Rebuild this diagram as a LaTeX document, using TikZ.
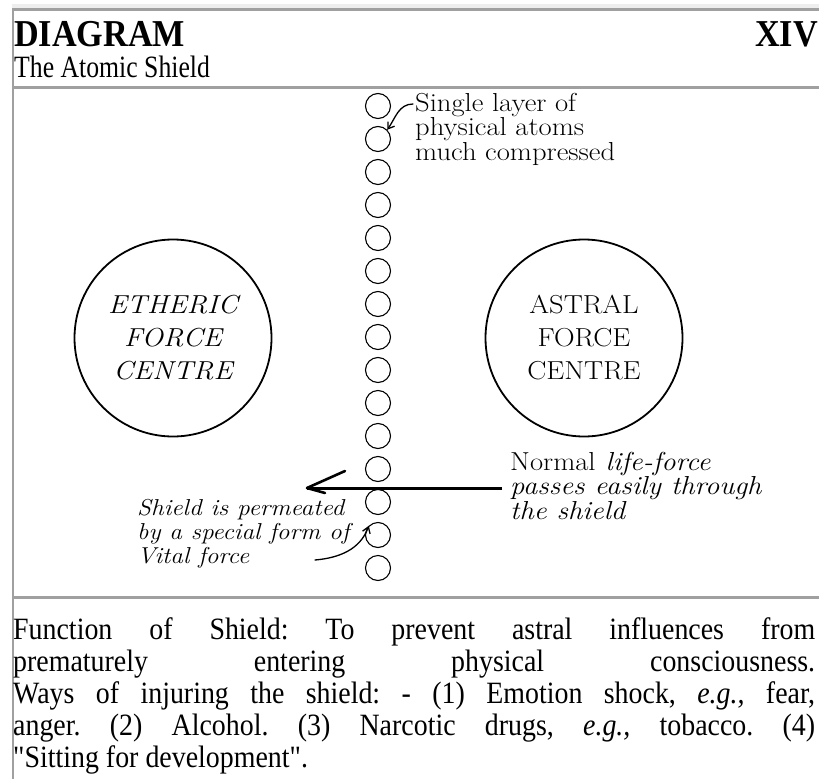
\documentclass[tikz,border=0pt]{standalone}
\usepackage{fontspec}
\setmainfont{Liberation Serif}
\newfontfamily\capfont{Liberation Serif}[FakeStretch=0.9]
\newfontfamily\subfont{Liberation Serif}[FakeStretch=0.83]
\newfontfamily\hand{Latin Modern Roman}[FakeStretch=1.1]
\usetikzlibrary{arrows.meta}
\definecolor{rulegray}{HTML}{A0A0A0}
\definecolor{faintgray}{HTML}{EEEEEE}
\begin{document}
\begin{tikzpicture}[x=1pt,y=-1pt,
  atom/.style={draw, circle, minimum size=25pt, inner sep=0pt, line width=1.1pt},
  centre/.style={draw, circle, minimum size=197pt, inner sep=0pt, line width=1.8pt, align=center},
  hdr/.style={inner sep=0pt, font=\subfont\fontsize{31}{34}\selectfont},
  hdrbold/.style={inner sep=0pt, font=\capfont\fontsize{38}{40}\selectfont\bfseries},
  lbl/.style={inner sep=0pt, align=left, anchor=north west},
  pen/.style={line width=1.3pt, line cap=round},
  tablerule/.style={rulegray, line width=3pt}]
\useasboundingbox (0,0) rectangle (819,779);
% table borders
\fill[faintgray] (12,4) rectangle (819,8);
\draw[tablerule] (12,9.5) -- (819,9.5);
\draw[rulegray, line width=1.5pt] (13,9) -- (13,779);
\draw[tablerule] (13,87) -- (819,87);
\draw[tablerule] (13,597) -- (819,597);
% header
\node[hdrbold, anchor=base west] (title) at (14,46) {DIAGRAM};
\node[hdrbold, anchor=base east] (num) at (818,46) {XIV};
\node[hdr, anchor=base west] (sub) at (14,77) {The Atomic Shield};
% atoms
\foreach \i in {0,...,14} \node[atom] (a\i) at (378,106+33*\i) {};
% force centres
\node[centre, font=\hand\itshape\fontsize{26}{33}\selectfont] (eth) at (173,338) {ETHERIC\\FORCE\\CENTRE};
\node[centre, font=\hand\fontsize{26}{33}\selectfont] (ast) at (584,338) {ASTRAL\\FORCE\\CENTRE};
% labels
\node[lbl, font=\hand\fontsize{26}{22}\selectfont] (single) at (415,93) {Single layer of\\physical atoms\\much compressed};
\node[lbl, font=\hand\itshape\fontsize{26}{23}\selectfont] (normal) at (510,452) {{\upshape Normal} life-force\\passes easily through\\the shield};
\node[lbl, font=\hand\itshape\fontsize{23}{24}\selectfont] (perm) at (137,499) {Shield is permeated\\by a special form of\\Vital force};
% arrows
\coordinate (s0) at (413,104);
\draw[pen, -{Straight Barb[length=6pt,width=8pt]}] (s0) to[out=180,in=55] (a1.north east);
\coordinate (lf) at (502,488);
\coordinate (tip) at (307,488);
\draw[line width=3pt] (lf) -- (tip);
\draw[line width=2.6pt, line cap=round] (tip) -- ++(38,-17);
\draw[line width=2.6pt, line cap=round] (tip) -- ++(18,5);
\coordinate (v0) at (315,560);
\draw[pen, -{Straight Barb[length=6pt,width=8pt]}] (v0) to[out=5,in=250] (a13.north west);
% caption paragraph
\node[anchor=base west, inner sep=0pt] (para) at (13,639) {\parbox[t]{802pt}{\capfont\fontsize{31}{32}\selectfont\frenchspacing
\makebox[\linewidth][s]{Function of Shield: To prevent astral influences from}\\
\makebox[\linewidth][s]{prematurely entering physical consciousness.}\\
\makebox[\linewidth][s]{Ways of injuring the shield: - (1) Emotion shock, \textit{e.g.,} fear,}\\
\makebox[\linewidth][s]{anger. (2) Alcohol. (3) Narcotic drugs, \textit{e.g.,} tobacco. (4)}\\
"Sitting for development".}};
\end{tikzpicture}
\end{document}
